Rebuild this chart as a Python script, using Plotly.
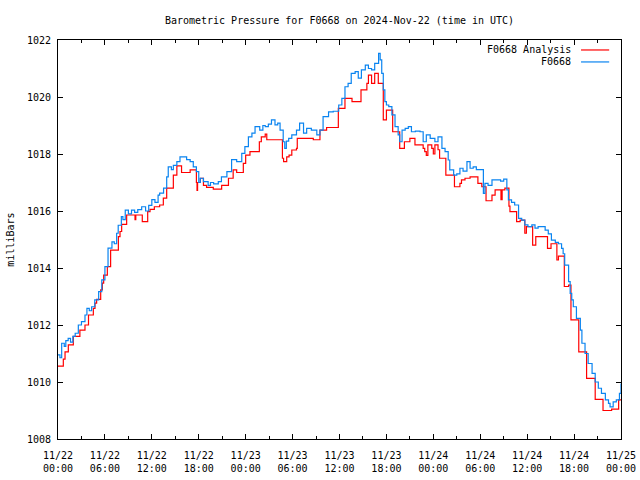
import pandas as pd
import plotly.graph_objects as go

# ---- data (hours after 2024-11-22 00:00 UTC, millibars) ----
obs_hours = [0.0, 0.25, 0.47, 0.8, 1.0, 1.3, 1.6, 1.9, 2.2, 2.6, 3.0, 3.45, 3.7, 4.0, 4.3, 4.7,
             5.2, 5.6, 6.0, 6.4, 6.9, 7.2, 7.5, 7.7, 8.1, 8.3, 8.6, 9.0, 9.4, 9.8, 10.2, 10.7,
             11.2, 11.6, 12.0, 12.4, 12.8, 13.0, 13.5, 13.9, 14.1, 14.5, 14.75, 15.2, 15.6, 16.0,
             16.45, 16.9, 17.3, 17.7, 18.0, 18.2, 18.6, 19.2, 19.5, 19.9, 20.5, 20.9, 21.6, 22.2,
             22.85, 23.5, 23.9, 24.35, 24.8, 25.2, 25.8, 26.2, 26.5, 26.9, 27.3, 27.75, 28.1, 28.4,
             28.8, 29.0, 29.2, 29.5, 29.9, 30.5, 30.9, 31.4, 31.8, 32.4, 33.1, 33.5, 33.9, 34.6,
             35.2, 35.9, 36.3, 36.7, 37.1, 37.5, 38.0, 38.4, 38.8, 39.3, 39.7, 40.1, 40.5, 41.0,
             41.2, 41.4, 41.6, 41.8, 42.0, 42.3, 42.7, 43.1, 43.5, 43.7, 44.0, 44.4, 44.8, 45.2,
             45.7, 46.3, 46.7, 47.1, 47.6, 48.2, 48.6, 49.1, 49.5, 49.9, 50.1, 50.6, 51.0, 51.4,
             51.8, 52.3, 52.7, 53.1, 53.5, 54.0, 54.4, 54.6, 55.0, 55.5, 56.1, 56.6, 57.0, 57.4,
             57.6, 58.0, 58.4, 58.9, 59.3, 59.7, 60.1, 60.6, 61.0, 61.4, 61.9, 62.3, 62.7, 63.1,
             63.6, 64.0, 64.4, 64.6, 64.8, 65.3, 65.5, 65.7, 65.9, 66.3, 66.8, 67.0, 67.4, 67.8,
             68.3, 68.7, 69.1, 69.5, 70.0, 70.4, 70.6, 71.0, 71.4, 71.8, 72.0]
obs_values = [1010.95, 1010.85, 1011.36, 1011.25, 1011.45, 1011.53, 1011.4, 1011.6, 1011.71, 1012.0,
              1012.12, 1012.35, 1012.58, 1012.5, 1012.64, 1012.88, 1013.17, 1013.58, 1014.05, 1014.7,
              1014.92, 1014.85, 1015.22, 1015.5, 1015.8, 1015.7, 1016.03, 1015.9, 1016.03, 1015.95,
              1016.05, 1016.15, 1016.0, 1016.2, 1016.4, 1016.3, 1016.56, 1016.63, 1016.8, 1017.2,
              1017.55, 1017.45, 1017.6, 1017.73, 1017.9, 1017.9, 1017.8, 1017.73, 1017.55, 1017.38,
              1017.0, 1017.15, 1017.03, 1016.9, 1017.0, 1016.95, 1017.03, 1017.2, 1017.38, 1017.8,
              1017.73, 1018.02, 1018.26, 1018.6, 1018.73, 1018.96, 1018.84, 1019.0, 1018.96, 1019.05,
              1019.2, 1019.02, 1019.08, 1018.84, 1018.43, 1018.2, 1018.45, 1018.55, 1018.67, 1018.84,
              1019.08, 1018.73, 1018.9, 1018.84, 1018.67, 1018.84, 1019.31, 1019.48, 1019.5, 1019.72,
              1019.95, 1020.36, 1020.48, 1020.83, 1020.89, 1020.66, 1020.95, 1021.12, 1021.0, 1020.95,
              1021.18, 1021.53, 1021.3, 1020.83, 1020.25, 1019.84, 1019.72, 1019.66, 1019.37, 1018.96,
              1018.67, 1018.43, 1018.84, 1018.9, 1018.96, 1018.78, 1018.8, 1018.78, 1018.43, 1018.67,
              1018.55, 1018.43, 1018.6, 1018.2, 1018.08, 1017.79, 1017.44, 1017.26, 1017.3, 1017.5,
              1017.4, 1017.73, 1017.5, 1017.55, 1017.45, 1017.45, 1016.62, 1016.97, 1016.9, 1017.09,
              1017.09, 1017.05, 1017.12, 1016.74, 1016.39, 1016.3, 1016.21, 1015.74, 1015.68, 1015.51,
              1015.45, 1015.51, 1015.4, 1015.45, 1015.45, 1015.33, 1015.2, 1014.98, 1014.9, 1014.85,
              1014.69, 1014.5, 1014.1, 1013.52, 1013.11, 1012.88, 1012.64, 1012.23, 1011.82, 1011.36,
              1011.0, 1010.65, 1010.3, 1010.0, 1009.78, 1009.6, 1009.37, 1009.25, 1009.13, 1009.3,
              1009.37, 1009.6, 1009.95]

ana_hours = [0.0, 0.68, 0.9, 1.32, 1.96, 2.8, 3.45, 3.9, 4.52, 4.73, 4.94, 5.46, 5.67, 5.84, 6.31,
             6.73, 7.72, 7.93, 8.14, 8.78, 9.85, 9.95, 10.78, 11.47, 11.77, 12.32, 13.0, 13.47,
             13.9, 14.75, 15.2, 15.8, 16.9, 17.7, 17.78, 17.85, 18.2, 18.6, 19.0, 19.86, 20.93,
             21.8, 22.4, 22.85, 23.7, 24.0, 24.55, 25.75, 26.0, 26.5, 26.7, 28.7, 28.85, 29.25,
             29.55, 29.9, 30.5, 30.6, 32.65, 33.5, 34.35, 35.85, 36.7, 37.6, 38.75, 39.5, 39.7,
             40.1, 40.5, 40.96, 41.6, 42.0, 42.8, 43.7, 44.3, 45.0, 45.65, 46.7, 46.9, 47.1, 47.3,
             47.8, 48.0, 48.2, 48.6, 48.8, 49.6, 50.7, 51.4, 51.6, 52.05, 52.7, 53.7, 54.2, 54.74,
             55.5, 55.9, 56.65, 56.8, 57.15, 57.67, 57.8, 58.65, 59.1, 59.7, 59.9, 60.7, 61.1,
             62.6, 63.05, 63.8, 64.0, 64.75, 65.3, 65.6, 66.6, 67.6, 68.7, 69.7, 70.8, 71.7, 72.0]
ana_values = [1010.56, 1010.8, 1011.06, 1011.3, 1011.6, 1011.82, 1012.0, 1012.35, 1012.58, 1012.77,
              1012.9, 1013.23, 1013.47, 1013.75, 1014.05, 1014.63, 1015.1, 1015.28, 1015.53, 1015.86,
              1015.7, 1015.86, 1015.63, 1015.98, 1016.06, 1016.15, 1016.21, 1016.45, 1016.8, 1017.26,
              1017.58, 1017.35, 1017.44, 1017.0, 1016.72, 1017.0, 1017.15, 1016.9, 1016.83, 1016.77,
              1016.9, 1017.15, 1017.44, 1017.35, 1017.67, 1017.96, 1018.08, 1018.43, 1018.6, 1018.7,
              1018.5, 1017.85, 1017.73, 1017.9, 1017.96, 1018.14, 1018.2, 1018.55, 1018.5, 1018.84,
              1018.93, 1019.6, 1019.95, 1019.84, 1020.25, 1020.48, 1020.77, 1020.48, 1020.83, 1020.48,
              1019.2, 1019.54, 1018.78, 1018.2, 1018.43, 1018.55, 1018.32, 1018.2, 1018.08, 1017.95,
              1018.32, 1018.2, 1018.0, 1018.32, 1018.15, 1017.85, 1017.26, 1016.85, 1016.97, 1017.09,
              1017.15, 1017.2, 1016.97, 1016.85, 1016.36, 1016.56, 1016.74, 1016.4, 1016.74, 1016.8,
              1016.17, 1015.98, 1015.63, 1015.68, 1015.22, 1015.45, 1014.8, 1015.1, 1014.69, 1014.85,
              1014.28, 1014.42, 1013.35, 1013.4, 1012.18, 1011.06, 1010.13, 1009.39, 1009.0, 1009.05,
              1009.37, 1009.37]

tick_hours = [0, 6, 12, 18, 24, 30, 36, 42, 48, 54, 60, 66, 72]
tick_labels = ["11/22<br>00:00", "11/22<br>06:00", "11/22<br>12:00", "11/22<br>18:00",
               "11/23<br>00:00", "11/23<br>06:00", "11/23<br>12:00", "11/23<br>18:00",
               "11/24<br>00:00", "11/24<br>06:00", "11/24<br>12:00", "11/24<br>18:00",
               "11/25<br>00:00"]
series_names = ["F0668 Analysis", "F0668"]
series_colors = ["#ff0000", "#0a84f0"]

start = pd.Timestamp("2024-11-22 00:00")
to_time = lambda hrs: start + pd.to_timedelta(hrs, unit="h")

FONT = "DejaVu Sans Mono"

fig = go.Figure()
fig.add_trace(go.Scatter(x=to_time(ana_hours), y=ana_values, mode="lines", line_shape="hv",
                         line=dict(color=series_colors[0], width=1.2), name=series_names[0],
                         showlegend=False))
fig.add_trace(go.Scatter(x=to_time(obs_hours), y=obs_values, mode="lines", line_shape="hv",
                         line=dict(color=series_colors[1], width=1.2), name=series_names[1],
                         showlegend=False))

# legend drawn gnuplot-style (text right-aligned, sample line to the right)
legend_rows_y = [0.975, 0.945]
for name, color, yy in zip(series_names, series_colors, legend_rows_y):
    fig.add_annotation(x=0.914, y=yy, xref="paper", yref="paper", text=name, showarrow=False,
                       xanchor="right", yanchor="middle", font=dict(family=FONT, size=10, color="black"))
    fig.add_shape(type="line", xref="paper", yref="paper", x0=0.929, x1=0.979, y0=yy, y1=yy,
                  line=dict(color=color, width=1.2))

fig.add_annotation(x=-0.085, y=0.5, xref="paper", yref="paper", text="milliBars", textangle=-90,
                   showarrow=False, xanchor="center", yanchor="middle",
                   font=dict(family=FONT, size=10, color="black"))

fig.update_layout(
    width=640, height=480,
    margin=dict(l=58, r=19, t=40, b=41, autoexpand=False),
    paper_bgcolor="white", plot_bgcolor="white",
    font=dict(family=FONT, size=10, color="black"),
    title=dict(text="Barometric Pressure for F0668 on 2024-Nov-22 (time in UTC)",
               x=0.5, xref="paper", xanchor="center", y=1 - 20 / 480, yanchor="middle",
               font=dict(family=FONT, size=10, color="black")),
    showlegend=False,
)
fig.update_xaxes(
    type="date", range=[to_time(0), to_time(72)], automargin=False,
    tickvals=to_time(tick_hours), ticktext=tick_labels,
    ticks="inside", ticklen=5, tickcolor="black", tickwidth=1,
    minor=dict(dtick=3 * 3600 * 1000, ticks="inside", ticklen=3, tickcolor="black", showgrid=False),
    showline=True, linecolor="black", linewidth=1, mirror="ticks",
    showgrid=False, zeroline=False, ticklabelstandoff=7,
)
fig.update_yaxes(
    range=[1008, 1022], dtick=2, tick0=1008, automargin=False,
    ticks="inside", ticklen=5, tickcolor="black", tickwidth=1,
    showline=True, linecolor="black", linewidth=1, mirror="ticks",
    showgrid=False, zeroline=False, ticklabelstandoff=4,
)

fig.write_html("out.html", config={"displayModeBar": False},
               post_script="document.body.style.margin='0';")
